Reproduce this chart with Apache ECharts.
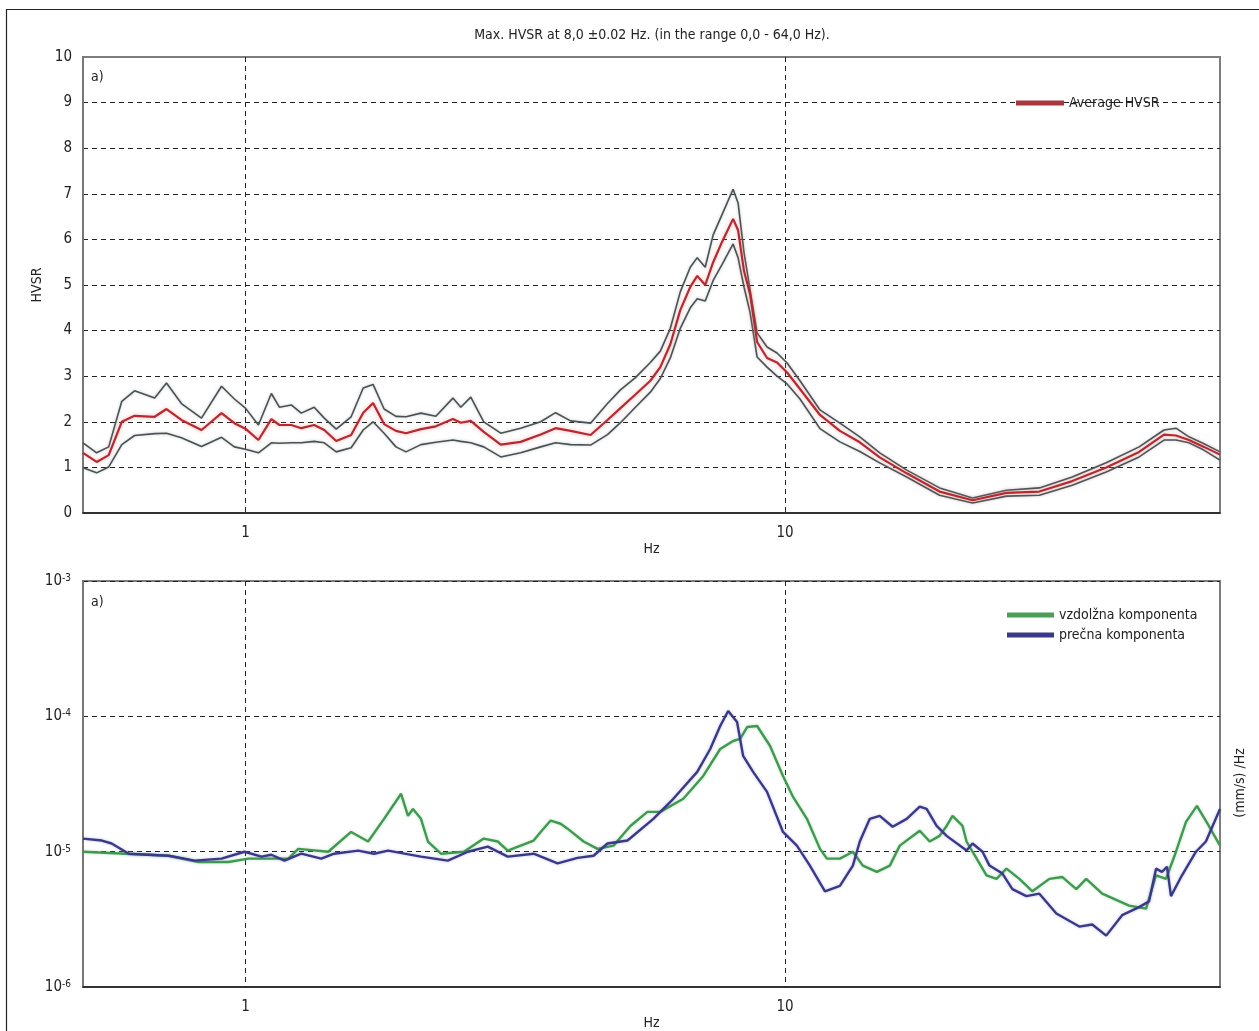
<!DOCTYPE html>
<html>
<head>
<meta charset="utf-8">
<title>HVSR</title>
<script src="https://cdn.jsdelivr.net/npm/echarts@6/dist/echarts.min.js"></script>
<style>
  html, body { margin: 0; padding: 0; background: #fff; }
  #chart { width: 1259px; height: 1031px; }
</style>
</head>
<body>
<div id="chart"></div>
<script>
const FONT = "'Liberation Sans Narrow', 'DejaVu Sans Condensed', Roboto, sans-serif";

// --- top panel: HVSR curve with +/- band ---
const hvsrFreq = [0.50, 0.53, 0.558, 0.59, 0.623, 0.679, 0.714, 0.761, 0.829, 0.903,
  0.954, 1.0, 1.057, 1.117, 1.156, 1.216, 1.269, 1.341, 1.40, 1.473,
  1.57, 1.653, 1.724, 1.807, 1.901, 1.984, 2.115, 2.254, 2.424, 2.507,
  2.616, 2.765, 2.973, 3.237, 3.525, 3.757, 4.005, 4.361, 4.688, 4.955,
  5.282, 5.629, 5.874, 6.13, 6.396, 6.675, 6.876, 7.114, 7.36, 7.647,
  8.013, 8.185, 8.397, 8.615, 8.878, 9.262, 9.665, 10.09, 10.66, 11.61,
  12.64, 13.76, 14.98, 16.81, 19.34, 22.26, 25.73, 29.61, 34.07, 39.38,
  45.32, 50.4, 53.04, 56.06, 59.75, 64];
const hvsrAvg = [1.32, 1.12, 1.27, 2.0, 2.13, 2.11, 2.28, 2.04, 1.82, 2.19,
  1.97, 1.85, 1.60, 2.06, 1.93, 1.93, 1.86, 1.93, 1.82, 1.58,
  1.71, 2.20, 2.41, 1.95, 1.80, 1.75, 1.84, 1.90, 2.06, 1.98,
  2.02, 1.78, 1.50, 1.56, 1.72, 1.86, 1.80, 1.71, 2.04, 2.30,
  2.60, 2.90, 3.20, 3.70, 4.45, 4.96, 5.20, 5.00, 5.50, 5.95,
  6.45, 6.20, 5.30, 4.80, 3.75, 3.40, 3.30, 3.08, 2.72, 2.15,
  1.80, 1.55, 1.22, 0.87, 0.47, 0.28, 0.44, 0.47, 0.70, 1.00,
  1.34, 1.72, 1.70, 1.60, 1.45, 1.28];
const hvsrUpper = [1.54, 1.32, 1.45, 2.45, 2.68, 2.52, 2.85, 2.40, 2.08, 2.78,
  2.50, 2.30, 1.93, 2.62, 2.32, 2.37, 2.19, 2.32, 2.08, 1.84,
  2.11, 2.74, 2.82, 2.28, 2.12, 2.11, 2.19, 2.12, 2.52, 2.32,
  2.54, 2.00, 1.75, 1.86, 2.00, 2.20, 2.02, 1.97, 2.40, 2.70,
  2.97, 3.30, 3.55, 4.05, 4.85, 5.39, 5.60, 5.39, 6.10, 6.55,
  7.10, 6.80, 5.70, 4.90, 3.95, 3.64, 3.51, 3.29, 2.90, 2.26,
  1.97, 1.67, 1.32, 0.94, 0.55, 0.33, 0.50, 0.55, 0.79, 1.10,
  1.45, 1.82, 1.86, 1.67, 1.52, 1.34];
const hvsrLower = [0.99, 0.88, 1.01, 1.50, 1.70, 1.74, 1.75, 1.65, 1.46, 1.66,
  1.45, 1.40, 1.32, 1.54, 1.53, 1.54, 1.54, 1.57, 1.54, 1.34,
  1.43, 1.82, 2.00, 1.75, 1.45, 1.34, 1.50, 1.55, 1.60, 1.57,
  1.54, 1.45, 1.23, 1.32, 1.45, 1.54, 1.50, 1.49, 1.72, 1.98,
  2.32, 2.65, 2.95, 3.40, 4.05, 4.50, 4.70, 4.65, 5.10, 5.45,
  5.90, 5.60, 4.95, 4.40, 3.42, 3.20, 3.00, 2.83, 2.50, 1.85,
  1.56, 1.35, 1.10, 0.79, 0.39, 0.22, 0.37, 0.39, 0.61, 0.90,
  1.23, 1.60, 1.60, 1.54, 1.38, 1.16];

// --- bottom panel: spectra, (mm/s)/Hz ---
const longFreq = [0.50, 0.721, 0.819, 0.930, 1.013, 1.201, 1.253, 1.424, 1.570, 1.688,
  1.807, 1.943, 2.001, 2.044, 2.115, 2.179, 2.303, 2.540, 2.765, 2.935,
  3.063, 3.421, 3.525, 3.679, 3.838, 3.954, 4.233, 4.493, 4.810, 5.170,
  5.558, 5.874, 6.479, 7.055, 7.584, 8.013, 8.257, 8.508, 8.878, 9.382,
  9.915, 10.35, 10.98, 11.61, 11.96, 12.64, 13.36, 13.94, 14.80, 15.64,
  16.32, 17.77, 18.54, 19.34, 19.93, 20.44, 21.33, 21.70, 22.26, 23.63,
  24.66, 25.73, 27.19, 28.74, 30.90, 32.66, 34.66, 36.16, 38.71, 43.42,
  46.69, 48.71, 50.83, 53.04, 55.36, 58.00, 61.03, 64];
const longVal = [1.00e-5, 0.934e-5, 0.84e-5, 0.84e-5, 0.89e-5, 0.89e-5, 1.05e-5, 1.00e-5, 1.40e-5, 1.19e-5,
  1.75e-5, 2.68e-5, 1.84e-5, 2.07e-5, 1.75e-5, 1.19e-5, 0.967e-5, 1.00e-5, 1.25e-5, 1.19e-5,
  1.02e-5, 1.21e-5, 1.40e-5, 1.70e-5, 1.61e-5, 1.48e-5, 1.19e-5, 1.05e-5, 1.11e-5, 1.55e-5,
  1.97e-5, 1.97e-5, 2.46e-5, 3.63e-5, 5.74e-5, 6.58e-5, 6.81e-5, 8.34e-5, 8.49e-5, 6.04e-5,
  3.63e-5, 2.54e-5, 1.75e-5, 1.05e-5, 0.89e-5, 0.89e-5, 1.00e-5, 0.79e-5, 0.71e-5, 0.79e-5,
  1.11e-5, 1.43e-5, 1.19e-5, 1.31e-5, 1.55e-5, 1.84e-5, 1.55e-5, 1.19e-5, 1.00e-5, 0.67e-5,
  0.63e-5, 0.75e-5, 0.63e-5, 0.51e-5, 0.63e-5, 0.65e-5, 0.53e-5, 0.63e-5, 0.49e-5, 0.40e-5,
  0.38e-5, 0.67e-5, 0.63e-5, 1.00e-5, 1.66e-5, 2.18e-5, 1.55e-5, 1.11e-5];
const transFreq = [0.50, 0.542, 0.565, 0.608, 0.721, 0.805, 0.903, 0.996, 1.071, 1.117,
  1.181, 1.269, 1.382, 1.460, 1.618, 1.731, 1.838, 2.115, 2.372, 2.584,
  2.813, 3.063, 3.421, 3.789, 4.126, 4.418, 4.688, 5.106, 5.702, 6.209,
  6.876, 7.268, 7.584, 7.846, 8.150, 8.364, 8.728, 9.262, 9.915, 10.52,
  11.12, 11.86, 12.64, 13.36, 13.76, 14.36, 14.98, 15.83, 16.81, 17.77,
  18.30, 19.10, 19.93, 21.70, 22.26, 23.23, 23.93, 25.29, 26.39, 28.02,
  29.61, 31.83, 35.11, 37.10, 39.38, 42.15, 45.32, 47.28, 48.71, 49.96,
  51.05, 51.92, 54.42, 57.76, 60.26, 64];
const transVal = [1.25e-5, 1.21e-5, 1.15e-5, 0.967e-5, 0.934e-5, 0.86e-5, 0.89e-5, 1.00e-5, 0.92e-5, 0.95e-5,
  0.86e-5, 0.967e-5, 0.89e-5, 0.967e-5, 1.02e-5, 0.967e-5, 1.02e-5, 0.92e-5, 0.86e-5, 1.00e-5,
  1.09e-5, 0.92e-5, 0.967e-5, 0.82e-5, 0.90e-5, 0.934e-5, 1.15e-5, 1.21e-5, 1.75e-5, 2.46e-5,
  3.89e-5, 5.74e-5, 8.49e-5, 10.95e-5, 9.08e-5, 5.10e-5, 3.89e-5, 2.77e-5, 1.40e-5, 1.11e-5,
  0.79e-5, 0.51e-5, 0.56e-5, 0.79e-5, 1.19e-5, 1.75e-5, 1.84e-5, 1.53e-5, 1.75e-5, 2.15e-5,
  2.07e-5, 1.55e-5, 1.31e-5, 1.02e-5, 1.15e-5, 1.00e-5, 0.79e-5, 0.69e-5, 0.53e-5, 0.47e-5,
  0.49e-5, 0.35e-5, 0.28e-5, 0.29e-5, 0.24e-5, 0.34e-5, 0.39e-5, 0.43e-5, 0.75e-5, 0.71e-5,
  0.775e-5, 0.47e-5, 0.67e-5, 1.00e-5, 1.19e-5, 2.07e-5];

const freqTicks = [1, 10];

const pairs = (xs, ys) => xs.map((x, i) => [x, ys[i]]);

const chart = echarts.init(document.getElementById('chart'));

const dashed = { type: [5, 4], color: '#222', width: 1 };

const makeX = (gridIndex) => ({
  type: 'log',
  gridIndex,
  min: 0.5,
  max: 64,
  name: 'Hz',
  nameLocation: 'middle',
  nameGap: 28,
  nameTextStyle: { fontSize: 14, color: '#222', fontFamily: FONT },
  axisLine: { lineStyle: { color: '#1a1a1a', width: 1.5 } },
  axisTick: { show: false },
  axisLabel: {
    margin: 13,
    fontSize: 15,
    color: '#222',
    fontFamily: FONT,
    formatter: (v) => {
      const t = freqTicks.find(t => Math.abs(t - v) < 1e-6);
      return t === undefined ? '' : String(t);
    }
  },
  splitLine: { show: true, showMinLine: false, showMaxLine: false, lineStyle: dashed }
});

const option = {
  animation: false,
  backgroundColor: '#fff',
  textStyle: { fontFamily: FONT },
  grid: [
    { left: 83, top: 57, right: 39, height: 456, show: true, borderColor: '#7d7d7d', borderWidth: 2 },
    { left: 83, top: 581, right: 39, height: 407, show: true, borderColor: '#7d7d7d', borderWidth: 2 }
  ],
  xAxis: [makeX(0), makeX(1)],
  yAxis: [
    {
      type: 'value',
      gridIndex: 0,
      min: 0,
      max: 10,
      interval: 1,
      name: 'HVSR',
      nameLocation: 'middle',
      nameGap: 39,
      nameTextStyle: { fontSize: 14, color: '#222', fontFamily: FONT },
      axisLine: { show: true, lineStyle: { color: '#777', width: 2 } },
      axisTick: { show: false },
      axisLabel: { margin: 11, fontSize: 15, color: '#222', fontFamily: FONT },
      splitLine: { show: true, showMinLine: false, showMaxLine: false, lineStyle: dashed }
    },
    {
      type: 'log',
      gridIndex: 1,
      min: 1e-6,
      max: 1e-3,
      axisLine: { show: true, lineStyle: { color: '#777', width: 2 } },
      axisTick: { show: false },
      axisLabel: {
        margin: 12,
        color: '#222',
        fontFamily: FONT,
        formatter: (v) => '{b|10}{s|' + Math.round(Math.log10(v)) + '}',
        rich: {
          b: { fontSize: 15, color: '#222', fontFamily: FONT, verticalAlign: 'bottom' },
          s: { fontSize: 10, color: '#222', fontFamily: FONT, verticalAlign: 'top' }
        }
      },
      splitLine: { show: true, showMinLine: false, showMaxLine: false, lineStyle: dashed }
    }
  ],
  legend: [
    {
      data: ['Average HVSR'],
      left: 1011,
      top: 91,
      itemWidth: 48,
      itemHeight: 5,
      icon: 'rect',
      textStyle: { fontSize: 14, color: '#222', fontFamily: FONT }
    },
    {
      data: ['vzdolžna komponenta', 'prečna komponenta'],
      orient: 'vertical',
      left: 1002,
      top: 603,
      itemWidth: 47,
      itemHeight: 5,
      itemGap: 6,
      icon: 'rect',
      textStyle: { fontSize: 14, color: '#222', fontFamily: FONT }
    }
  ],
  graphic: [
    { type: 'rect', silent: true, z: 100, shape: { x: 6.5, y: 9.5, width: 1300, height: 1100 },
      style: { fill: 'none', stroke: '#222', lineWidth: 1.2 } },
    { type: 'text', x: 652, y: 35, silent: true,
      style: { text: 'Max. HVSR at 8,0 ±0.02 Hz. (in the range 0,0 - 64,0 Hz).', fontSize: 14,
        fontFamily: FONT, fill: '#222', align: 'center', verticalAlign: 'middle' } },
    { type: 'text', x: 91, y: 77, silent: true,
      style: { text: 'a)', fontSize: 14, fontFamily: FONT, fill: '#222', verticalAlign: 'middle' } },
    { type: 'text', x: 91, y: 602, silent: true,
      style: { text: 'a)', fontSize: 14, fontFamily: FONT, fill: '#222', verticalAlign: 'middle' } },
    { type: 'text', x: 1240, y: 783, rotation: Math.PI / 2, silent: true,
      style: { text: '(mm/s) /Hz', fontSize: 14, fontFamily: FONT, fill: '#222',
        align: 'center', verticalAlign: 'middle' } }
  ],
  series: [
    {
      name: 'HVSR + std',
      type: 'line',
      xAxisIndex: 0, yAxisIndex: 0,
      showSymbol: false, symbol: 'none',
      data: pairs(hvsrFreq, hvsrUpper),
      lineStyle: { color: '#4a5154', width: 1.6, shadowBlur: 3, shadowColor: 'rgba(120,130,130,0.45)' },
      itemStyle: { color: '#4a5154' }
    },
    {
      name: 'HVSR - std',
      type: 'line',
      xAxisIndex: 0, yAxisIndex: 0,
      showSymbol: false, symbol: 'none',
      data: pairs(hvsrFreq, hvsrLower),
      lineStyle: { color: '#4a5154', width: 1.6, shadowBlur: 3, shadowColor: 'rgba(120,130,130,0.45)' },
      itemStyle: { color: '#4a5154' }
    },
    {
      name: 'Average HVSR',
      type: 'line',
      xAxisIndex: 0, yAxisIndex: 0,
      showSymbol: false, symbol: 'none',
      data: pairs(hvsrFreq, hvsrAvg),
      lineStyle: { color: '#b8282f', width: 2.2, shadowBlur: 4, shadowColor: 'rgba(235,120,120,0.55)' },
      itemStyle: { color: '#a8383e' }
    },
    {
      name: 'vzdolžna komponenta',
      type: 'line',
      xAxisIndex: 1, yAxisIndex: 1,
      showSymbol: false, symbol: 'none',
      data: pairs(longFreq, longVal),
      lineStyle: { color: '#3f9a4f', width: 2.4, shadowBlur: 3, shadowColor: 'rgba(90,180,100,0.4)' },
      itemStyle: { color: '#4a9e58' }
    },
    {
      name: 'prečna komponenta',
      type: 'line',
      xAxisIndex: 1, yAxisIndex: 1,
      showSymbol: false, symbol: 'none',
      data: pairs(transFreq, transVal),
      lineStyle: { color: '#3a3888', width: 2.4, shadowBlur: 3, shadowColor: 'rgba(100,100,190,0.4)' },
      itemStyle: { color: '#3a3888' }
    }
  ]
};

chart.setOption(option);
window.addEventListener('resize', () => chart.resize());
</script>
</body>
</html>
